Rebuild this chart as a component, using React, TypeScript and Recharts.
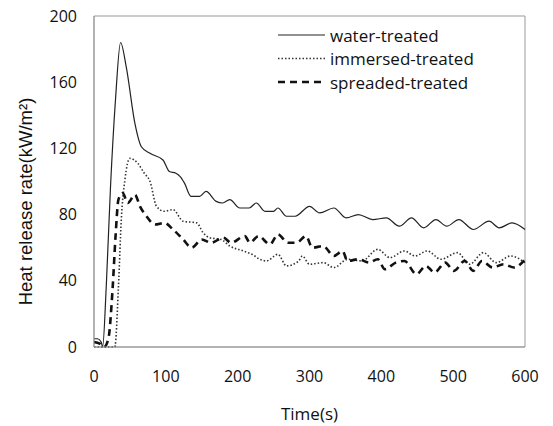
import React from 'react';
import { LineChart, Line, XAxis, YAxis, ReferenceArea } from 'recharts';

// water-treated
const waterTime = [0, 5, 10, 12, 17, 23, 30, 37, 45, 57, 66, 78, 96, 105, 114, 120, 126, 135, 147, 156, 170, 179, 189, 203, 216, 226, 238, 250, 256, 268, 280, 300, 314, 334, 351, 368, 388, 407, 425, 442, 459, 476, 491, 508, 528, 550, 564, 582, 600];
const waterHrr = [5, 5, 3, 0, 36, 97, 150, 184, 169, 135, 121, 117, 113, 106, 105, 103, 99, 91, 91, 94, 88, 87, 89, 84, 84, 87, 82, 82, 84, 79, 79, 85, 81, 84, 78, 80, 77, 78, 73, 78, 72, 77, 73, 77, 71, 76, 72, 75, 71];

// immersed-treated
const immersedTime = [0, 29, 34, 38, 43, 50, 61, 70, 78, 87, 98, 110, 124, 143, 152, 161, 177, 189, 208, 220, 231, 240, 256, 268, 285, 290, 300, 319, 334, 353, 373, 395, 412, 432, 447, 464, 483, 506, 523, 542, 560, 580, 600];
const immersedHrr = [0, 0, 36, 77, 101, 114, 111, 105, 100, 85, 82, 83, 76, 75, 69, 66, 65, 61, 58, 56, 53, 52, 56, 49, 52, 55, 50, 51, 48, 53, 52, 59, 54, 58, 55, 58, 53, 57, 50, 57, 51, 55, 51];

// spreaded-treated
const spreadTime = [0, 8, 14, 20, 26, 30, 34, 40, 47, 57, 64, 73, 85, 98, 110, 124, 136, 150, 163, 180, 191, 210, 217, 229, 245, 256, 270, 282, 295, 304, 319, 334, 346, 353, 368, 383, 395, 405, 420, 432, 449, 462, 474, 489, 501, 516, 528, 540, 555, 570, 585, 600];
const spreadHrr = [3, 2, 0, 5, 36, 67, 89, 93, 87, 92, 85, 79, 74, 75, 71, 65, 60, 65, 63, 66, 63, 67, 63, 67, 62, 68, 63, 63, 67, 60, 61, 55, 58, 52, 53, 51, 53, 47, 51, 52, 44, 49, 45, 51, 46, 52, 46, 52, 48, 50, 48, 53];

const xTicks = [0, 100, 200, 300, 400, 500, 600];
const yTicks = [0, 40, 80, 120, 160, 200];

const toPoints = (ts: number[], vs: number[]) => ts.map((t, i) => ({ t, v: vs[i] }));

const series = [
  { name: 'water-treated', data: toPoints(waterTime, waterHrr), stroke: '#222', width: 1.2, dash: undefined },
  { name: 'immersed-treated', data: toPoints(immersedTime, immersedHrr), stroke: '#333', width: 1.6, dash: '1.5 2' },
  { name: 'spreaded-treated', data: toPoints(spreadTime, spreadHrr), stroke: '#111', width: 2.6, dash: '7 5' },
];

const tickStyle = { fontFamily: 'Open Sans', fontSize: 16, fill: '#111' };

// legend sits inside the plot, so it's drawn on top instead of via <Legend> (which steals plot height)
const LegendBox = () => (
  <svg width={220} height={75} style={{ position: 'absolute', left: 270, top: 23 }}>
    {series.map((s, i) => {
      const y = 12 + i * 23.5;
      return (
        <g key={s.name}>
          <line x1={0} x2={47} y1={y} y2={y} stroke={s.stroke} strokeWidth={s.width} strokeDasharray={s.dash} />
          <text x={52} y={y} dominantBaseline="central" fontFamily="Open Sans" fontSize={17} fill="#111">
            {s.name}
          </text>
        </g>
      );
    })}
  </svg>
);

const YTitle = (props: any) => {
  const vb = props.viewBox || { x: 0, y: 0, width: 0, height: 0 };
  const x = vb.x + 17;
  const y = vb.y + vb.height / 2 + 20;
  return (
    <text
      x={x}
      y={y}
      transform={`rotate(-90 ${x} ${y})`}
      textAnchor="middle"
      dominantBaseline="central"
      fontFamily="Liberation Sans"
      fontSize={18.5}
      fill="#111"
    >
      Heat release rate(kW/m²)
    </text>
  );
};

const XTitle = (props: any) => {
  const vb = props.viewBox || { x: 0, y: 0, width: 0, height: 0 };
  return (
    <text
      x={vb.x + vb.width / 2}
      y={vb.y + 66}
      textAnchor="middle"
      dominantBaseline="central"
      fontFamily="Open Sans"
      fontSize={17}
      fill="#111"
    >
      Time(s)
    </text>
  );
};

export default function App() {
  return (
    <div style={{ position: 'relative', width: 545, height: 426, marginTop: -8 }}>
      <LineChart width={545} height={426} margin={{ top: 16, right: 28, left: 0, bottom: 0 }}>
        <XAxis
          dataKey="t"
          type="number"
          domain={[0, 600]}
          ticks={xTicks}
          height={79}
          tickLine={false}
          tickSize={0}
          tickMargin={24}
          axisLine={{ stroke: '#999' }}
          tick={tickStyle}
          label={<XTitle />}
        />
        <YAxis
          type="number"
          domain={[0, 200]}
          ticks={yTicks}
          width={86}
          tickLine={false}
          tickSize={0}
          tickMargin={17}
          axisLine={{ stroke: '#999' }}
          tick={tickStyle}
          label={<YTitle />}
        />
        <ReferenceArea x1={0} x2={600} y1={0} y2={200} fill="none" stroke="#999" strokeWidth={1} />
        {series.map(s => (
          <Line
            key={s.name}
            data={s.data}
            dataKey="v"
            name={s.name}
            type="monotone"
            stroke={s.stroke}
            strokeWidth={s.width}
            strokeDasharray={s.dash}
            dot={false}
            isAnimationActive={false}
          />
        ))}
      </LineChart>
      <LegendBox />
    </div>
  );
}
